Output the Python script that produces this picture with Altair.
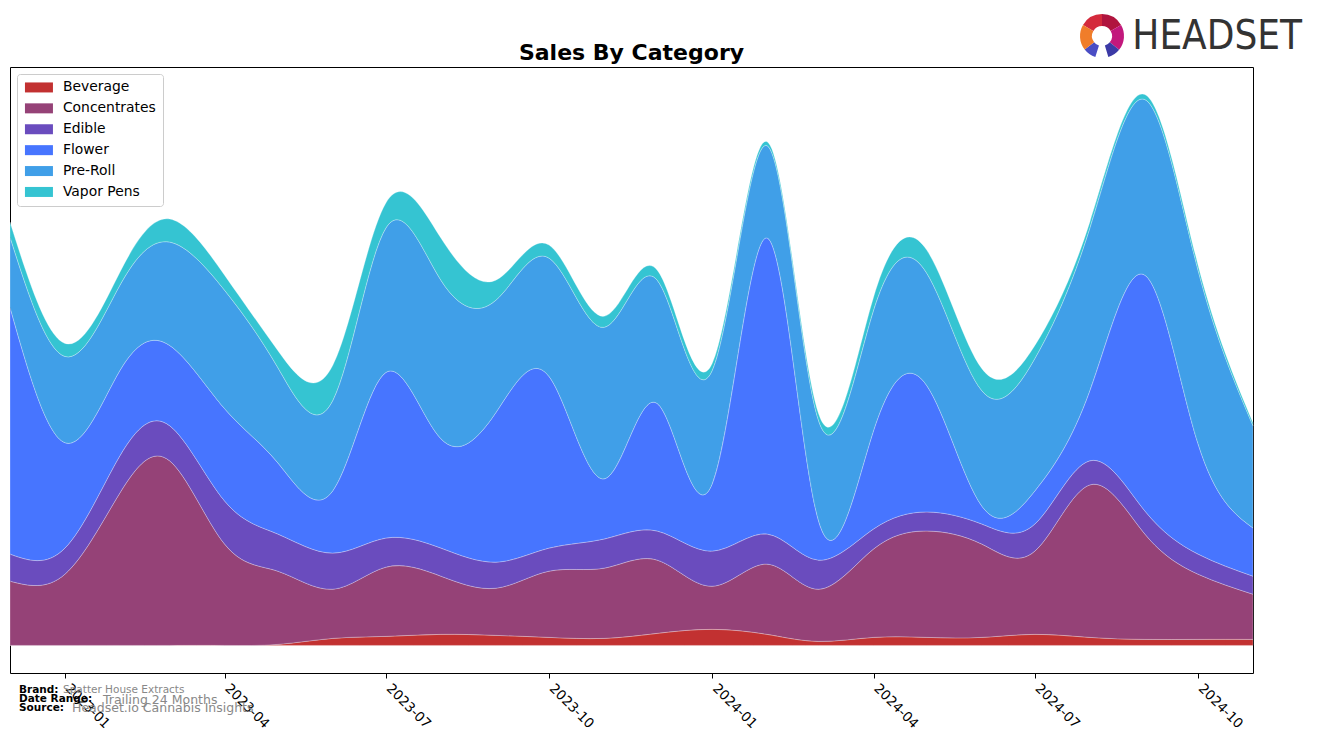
import altair as alt
import pandas as pd

months = ["2022-12-01", "2023-01-01", "2023-02-01", "2023-03-01", "2023-04-01", "2023-05-01",
          "2023-06-01", "2023-07-01", "2023-08-01", "2023-09-01", "2023-10-01", "2023-11-01",
          "2023-12-01", "2024-01-01", "2024-02-01", "2024-03-01", "2024-04-01", "2024-05-01",
          "2024-06-01", "2024-07-01", "2024-08-01", "2024-09-01", "2024-10-01", "2024-11-01"]

categories = ["Beverage", "Concentrates", "Edible", "Flower", "Pre-Roll", "Vapor Pens"]
colors = ["#c23131", "#954277", "#6a4cbe", "#4775ff", "#409fe8", "#35c4d2"]

beverage = [0, 0, 0, 0, 0, 1, 7, 9, 11, 10, 8, 7, 12, 16, 11, 4, 8, 8, 8, 11, 8, 6, 6, 6]
concentrates = [64, 71, 152, 184, 101, 73, 49, 69, 58, 47, 66, 70, 73, 43, 70, 52, 88, 106, 93, 83, 152, 105, 65, 45]
edible = [27, 26, 37, 35, 43, 37, 36, 29, 28, 26, 23, 29, 29, 35, 30, 29, 20, 19, 20, 27, 24, 23, 20, 18]
flower = [246, 105, 85, 80, 92, 71, 62, 165, 109, 149, 171, 60, 127, 67, 295, 39, 98, 126, 18, 33, 70, 235, 110, 48]
preroll = [70, 86, 85, 103, 118, 95, 90, 144, 158, 112, 118, 151, 123, 113, 92, 100, 120, 112, 115, 132, 162, 175, 173, 102]
vapor = [15, 13, 13, 23, 15, 17, 35, 25, 42, 20, 13, 11, 10, 7, 4, 7, 13, 23, 22, 13, 6, 5, 5, 3]

tick_dates = [(2023, 1), (2023, 4), (2023, 7), (2023, 10), (2024, 1), (2024, 4), (2024, 7), (2024, 10)]

series = [beverage, concentrates, edible, flower, preroll, vapor]
rows = []
for ci, (cat, vals) in enumerate(zip(categories, series)):
    for m, v in zip(months, vals):
        rows.append({"date": m, "category": cat, "value": v, "order": ci})
df = pd.DataFrame(rows)

W, H = 1243, 606
FONT = "DejaVu Sans"

areas = alt.Chart(df).mark_area(
    interpolate="natural", stroke="white", strokeWidth=0.6, strokeOpacity=0.45
).encode(
    x=alt.X("date:T",
            scale=alt.Scale(type="utc", domain=[alt.DateTime(year=2022, month=12, date=1, utc=True),
                                                alt.DateTime(year=2024, month=11, date=1, utc=True)]),
            axis=alt.Axis(values=[alt.DateTime(year=y, month=mo, date=1, utc=True) for y, mo in tick_dates],
                          labelExpr="utcFormat(datum.value, '%Y-%m')",
                          labelAngle=45, labelAlign="left", labelOffset=7,
                          labelBaseline="top", labelFontSize=13.5, labelFont=FONT, labelColor="black",
                          labelPadding=3, tickSize=5, tickColor="black", domain=False, grid=False,
                          title=None)),
    y=alt.Y("value:Q", stack="zero", scale=alt.Scale(domain=[-27.5, 576.5], nice=False, zero=False),
            axis=None),
    color=alt.Color("category:N",
                    scale=alt.Scale(domain=categories, range=colors),
                    legend=alt.Legend(title=None, orient="none", legendX=7, legendY=7,
                                      symbolType="M-2.8,-1H2.8V1H-2.8Z", symbolSize=100,
                                      symbolStrokeWidth=0, symbolOffset=8.5,
                                      labelFontSize=13.9, labelFont=FONT,
                                      labelColor="black", rowPadding=5.9, labelOffset=17,
                                      padding=6.5, strokeColor="#cccccc", fillColor="white",
                                      cornerRadius=3)),
    order=alt.Order("order:Q", sort="ascending"),
)

foot = pd.DataFrame({"x": [0]})

def txt(s, x, y, size, color, weight="normal", align="left", font=FONT):
    return alt.Chart(foot).mark_text(
        text=s, fontSize=size, color=color, fontWeight=weight, align=align, baseline="middle", font=font
    ).encode(x=alt.value(x), y=alt.value(y))

texts = [
    txt("Sales By Category", W / 2, -14, 22, "black", "bold", "center"),
    txt("Brand:", 9, 623, 10.5, "black", "bold"),
    txt("Spatter House Extracts", 53, 623, 10.5, "#888888"),
    txt("Date Range:", 9, 632, 10.5, "black", "bold"),
    txt("Trailing 24 Months", 93, 633, 12.5, "#888888"),
    txt("Source:", 9, 641, 10.5, "black", "bold"),
    txt("Headset.io Cannabis Insights", 62, 641, 12.5, "#888888"),
    txt("HEADSET", 1292, -30, 40, "#333333", "normal", "right",
        "'DejaVu Sans Condensed', 'Liberation Sans Narrow', Roboto"),
]

logo_segs = [
    (5.24, 6.283, "#d42a3c"),
    (0.0, 1.05, "#b0143e"),
    (1.05, 2.25, "#c2187c"),
    (2.25, 2.85, "#3b3aa6"),
    (3.45, 4.05, "#4a4dc4"),
    (4.05, 5.24, "#f07d2a"),
]
logos = [
    alt.Chart(foot).mark_arc(theta=t1, theta2=t2, radius=22, radius2=10, color=c).encode(
        x=alt.value(1092), y=alt.value(-31))
    for t1, t2, c in logo_segs
]

chart = alt.layer(areas, *texts, *logos).properties(
    width=W, height=H,
    autosize=alt.AutoSizeParams(type="none"),
    padding={"left": 2, "top": 59, "right": 56, "bottom": 62},
).configure_view(stroke="black", strokeWidth=1)

chart.save("out.html", embed_options={"renderer": "svg", "actions": False})
